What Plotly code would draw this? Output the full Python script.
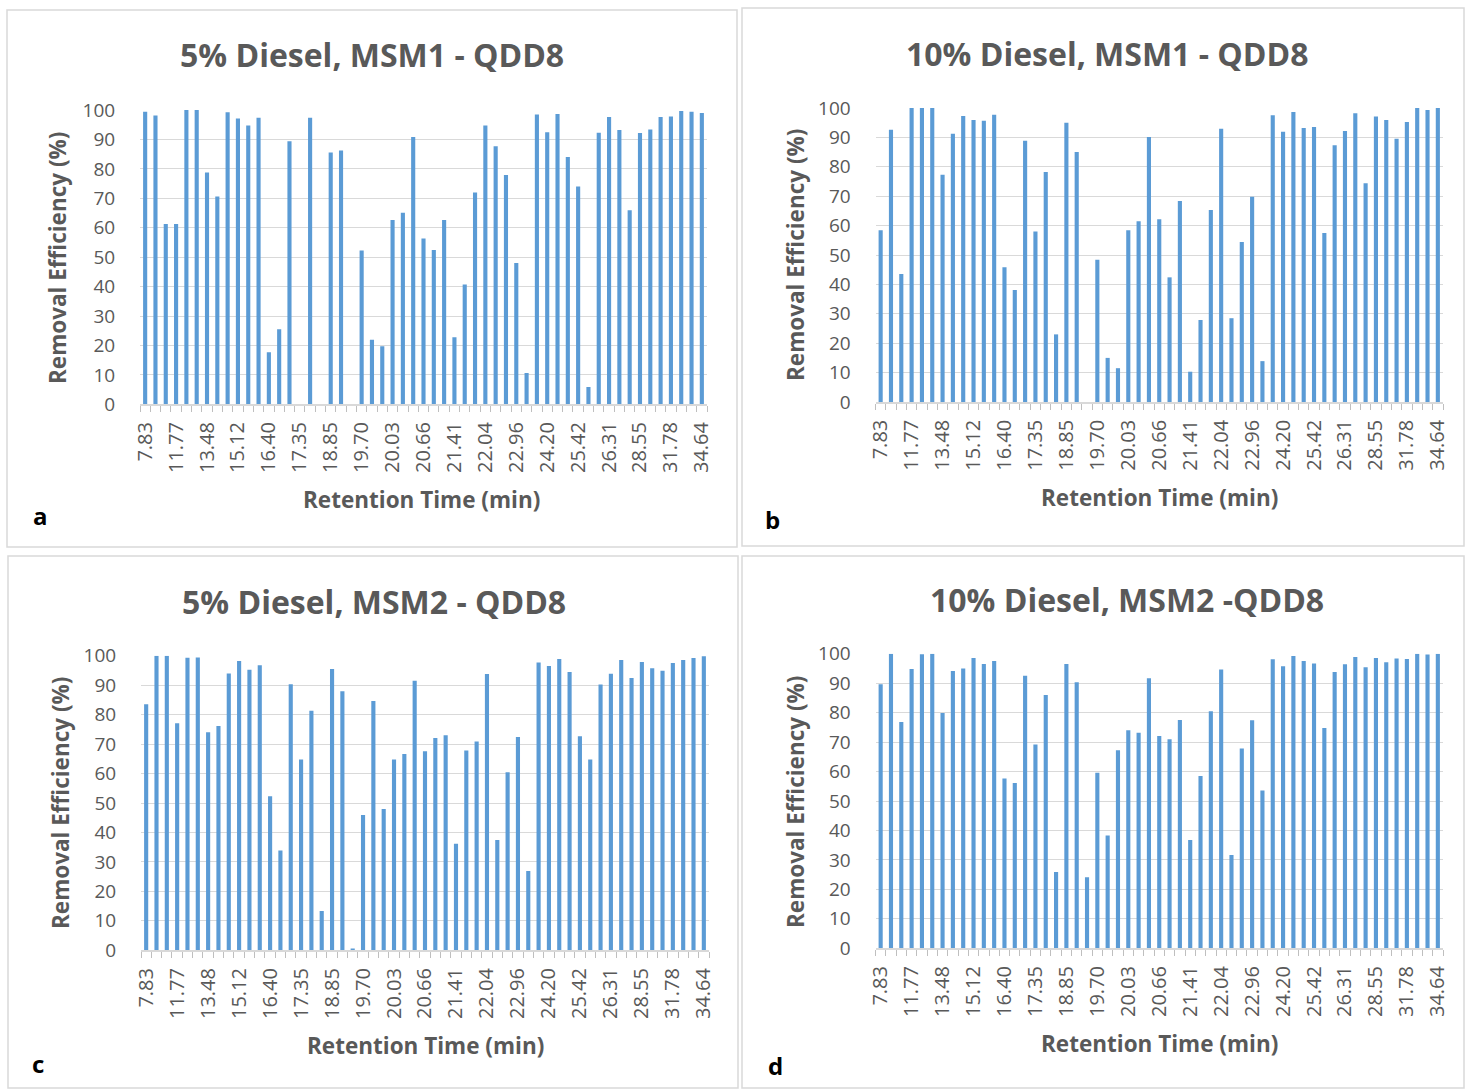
import plotly.graph_objects as go

W, H = 1465, 1089

# Tick labels shown on the category axis (every third of 55 peaks)
tick_labels = ["7.83", "11.77", "13.48", "15.12", "16.40", "17.35", "18.85", "19.70",
               "20.03", "20.66", "21.41", "22.04", "22.96", "24.20", "25.42", "26.31",
               "28.55", "31.78", "34.64"]

# Removal efficiency (%) per peak, 55 peaks per panel
msm1_5 = [99.4, 98.1, 61.3, 61.3, 100, 100, 78.8, 70.6, 99.2, 97.1, 94.7, 97.4, 17.7, 25.5,
          89.4, 0, 97.4, 0, 85.6, 86.2, 0, 52.3, 21.9, 19.7, 62.6, 65.1, 90.8, 56.3, 52.4,
          62.6, 22.8, 40.7, 72.0, 94.7, 87.7, 77.9, 48.0, 10.6, 98.5, 92.4, 98.6, 84.0, 74.0,
          5.9, 92.3, 97.6, 93.2, 65.9, 92.2, 93.4, 97.6, 97.8, 99.7, 99.4, 99.0]
msm1_10 = [58.4, 92.6, 43.5, 100, 100, 100, 77.3, 91.2, 97.3, 95.9, 95.7, 97.7, 45.8, 38.1,
           88.9, 58.0, 78.2, 23.0, 95.0, 85.0, 0, 48.4, 15.0, 11.5, 58.4, 61.5, 90.1, 62.2,
           42.4, 68.4, 10.3, 27.9, 65.3, 92.9, 28.5, 54.4, 69.8, 13.9, 97.5, 91.9, 98.6, 93.2,
           93.5, 57.5, 87.3, 92.2, 98.2, 74.4, 97.1, 95.9, 89.5, 95.2, 100, 99.3, 100]
msm2_5 = [83.5, 100, 100, 77.1, 99.3, 99.4, 74.0, 76.1, 94.0, 98.2, 95.2, 96.8, 52.3, 33.9,
          90.3, 64.8, 81.3, 13.3, 95.5, 87.9, 0.6, 45.9, 84.6, 48.0, 64.8, 66.6, 91.5, 67.6,
          72.1, 73.0, 36.2, 67.8, 70.9, 93.8, 37.4, 60.4, 72.4, 26.9, 97.7, 96.5, 98.9, 94.5,
          72.7, 64.8, 90.2, 93.9, 98.5, 92.4, 97.9, 95.7, 94.9, 97.5, 98.5, 99.2, 99.8]
msm2_10 = [89.6, 100, 76.8, 94.8, 99.8, 100, 79.9, 94.1, 95.0, 98.5, 96.5, 97.5, 57.6, 56.1,
           92.5, 69.2, 86.0, 25.9, 96.5, 90.3, 24.1, 59.6, 38.3, 67.2, 74.0, 73.2, 91.7, 72.1,
           71.0, 77.5, 36.8, 58.5, 80.5, 94.6, 31.7, 67.8, 77.4, 53.6, 98.1, 95.7, 99.2, 97.5,
           96.7, 74.8, 93.8, 96.4, 98.9, 95.4, 98.5, 97.1, 98.4, 98.2, 100, 99.7, 100]

titles = ["5% Diesel, MSM1 - QDD8", "10% Diesel, MSM1 - QDD8",
          "5% Diesel, MSM2 - QDD8", "10% Diesel, MSM2 -QDD8"]
letters = ["a", "b", "c", "d"]
series = [msm1_5, msm1_10, msm2_5, msm2_10]

FONT = "Open Sans"
GREY = "#595959"
BAR = "#5b9bd5"

# pixel layout per panel
panels = [
    dict(px=(140, 707), py=(110, 404.3), box=(7, 10, 737, 547), title=(372, 55),
         xt=(422, 499), yt=(58, 258), let=(40, 515)),
    dict(px=(875.5, 1443), py=(108, 402), box=(742, 8, 1464, 546), title=(1107, 53),
         xt=(1159, 497), yt=(795, 255), let=(773, 519)),
    dict(px=(141, 709), py=(655.7, 950.3), box=(8, 556, 738, 1088), title=(374, 601),
         xt=(425, 1045), yt=(60, 803), let=(38, 1063)),
    dict(px=(875.5, 1443), py=(653.7, 948.3), box=(742, 556, 1464, 1088), title=(1127, 599),
         xt=(1159, 1043), yt=(795, 802), let=(775, 1065)),
]

def fx(p):
    return p / W

def fy(p):
    return 1 - p / H

fig = go.Figure()
annotations = []
shapes = []
n = len(msm1_5)
xs = list(range(n))
tickvals = list(range(0, n, 3))

for i, (vals, p) in enumerate(zip(series, panels)):
    k = "" if i == 0 else str(i + 1)
    fig.add_trace(go.Bar(x=xs, y=vals, marker=dict(color=BAR, line=dict(width=0)),
                         width=0.4, xaxis="x" + k, yaxis="y" + k, showlegend=False))
    fig.layout["xaxis" + k] = dict(
        domain=[fx(p["px"][0]), fx(p["px"][1])], anchor="y" + k, automargin=False,
        range=[-0.5, n - 0.5], tickmode="array", tickvals=tickvals, ticktext=tick_labels,
        tickangle=-90, ticks="outside", ticklen=8, tickcolor="rgba(0,0,0,0)",
        tickfont=dict(family=FONT, size=20, color=GREY),
        showline=True, linecolor="#d9d9d9", linewidth=1.5, showgrid=False, zeroline=False,
        minor=dict(tick0=-0.5, dtick=1, ticks="outside", ticklen=6, tickcolor="#bfbfbf",
                   tickwidth=1, showgrid=False),
        fixedrange=True)
    fig.layout["yaxis" + k] = dict(
        domain=[fy(p["py"][1]), fy(p["py"][0])], anchor="x" + k, automargin=False,
        range=[0, 100], tickmode="linear", tick0=0, dtick=10,
        ticks="outside", ticklen=20, tickcolor="rgba(0,0,0,0)",
        tickfont=dict(family=FONT, size=19, color=GREY),
        showgrid=True, gridcolor="#d9d9d9", gridwidth=1, zeroline=False, showline=False,
        fixedrange=True)
    bx0, by0, bx1, by1 = p["box"]
    shapes.append(dict(type="rect", xref="paper", yref="paper", x0=fx(bx0), x1=fx(bx1),
                       y0=fy(by1), y1=fy(by0), line=dict(color="#d9d9d9", width=1.5),
                       fillcolor="rgba(0,0,0,0)"))
    annotations.append(dict(text="<b>%s</b>" % titles[i], x=fx(p["title"][0]), y=fy(p["title"][1]),
                            xref="paper", yref="paper", xanchor="center", yanchor="middle",
                            showarrow=False, font=dict(family=FONT, size=32, color=GREY)))
    annotations.append(dict(text="<b>Retention Time (min)</b>", x=fx(p["xt"][0]), y=fy(p["xt"][1]),
                            xref="paper", yref="paper", xanchor="center", yanchor="middle",
                            showarrow=False, font=dict(family=FONT, size=22.5, color=GREY)))
    annotations.append(dict(text="<b>Removal Efficiency (%)</b>", x=fx(p["yt"][0]), y=fy(p["yt"][1]),
                            xref="paper", yref="paper", xanchor="center", yanchor="middle",
                            textangle=-90, showarrow=False,
                            font=dict(family=FONT, size=22.5, color=GREY)))
    annotations.append(dict(text="<b>%s</b>" % letters[i], x=fx(p["let"][0]), y=fy(p["let"][1]),
                            xref="paper", yref="paper", xanchor="center", yanchor="middle",
                            showarrow=False, font=dict(family=FONT, size=24, color="#000000")))

fig.update_layout(width=W, height=H, margin=dict(l=0, r=0, t=0, b=0, autoexpand=False),
                  paper_bgcolor="white", plot_bgcolor="white",
                  annotations=annotations, shapes=shapes, bargap=0.6)
fig.write_html("out.html", config={"displayModeBar": False},
               post_script="document.body.style.margin='0';document.body.style.padding='0';"
                           "document.body.style.overflow='hidden';"
                           "document.documentElement.style.overflow='hidden';")
